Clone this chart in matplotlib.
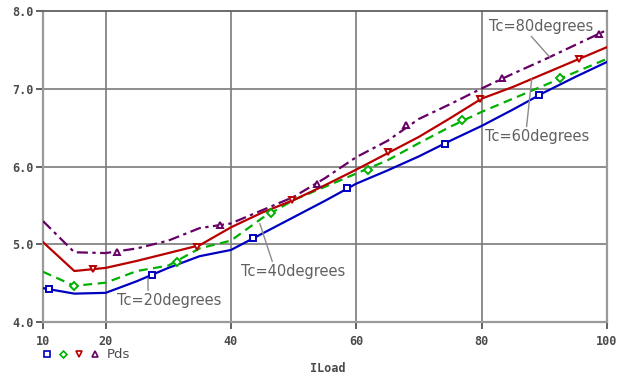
import matplotlib
matplotlib.use("Agg")
import matplotlib.pyplot as plt
from matplotlib.lines import Line2D

# load current (x axis) sampled every 5
iload = [10, 15, 20, 25, 30, 35, 40, 45, 50, 55, 60, 65, 70, 75, 80, 85, 90, 95, 100]

pds_20 = [4.44, 4.37, 4.38, 4.53, 4.70, 4.85, 4.93, 5.14, 5.35, 5.56, 5.78, 5.95,
          6.13, 6.33, 6.52, 6.73, 6.95, 7.15, 7.34]
pds_40 = [4.65, 4.47, 4.51, 4.66, 4.73, 4.95, 5.05, 5.34, 5.57, 5.74, 5.91, 6.08,
          6.30, 6.51, 6.70, 6.87, 7.04, 7.21, 7.38]
pds_60 = [5.03, 4.66, 4.70, 4.79, 4.89, 4.99, 5.22, 5.41, 5.57, 5.76, 5.96, 6.17,
          6.38, 6.62, 6.87, 7.02, 7.19, 7.36, 7.53]
pds_80 = [5.30, 4.90, 4.89, 4.95, 5.05, 5.21, 5.27, 5.44, 5.61, 5.85, 6.12, 6.33,
          6.61, 6.80, 7.00, 7.19, 7.37, 7.56, 7.75]

# symbol positions as they appear on each trace
mk20_x = [11.0, 27.4, 43.5, 58.6, 74.1, 89.1]
mk20_y = [4.43, 4.61, 5.08, 5.72, 6.29, 6.92]
mk40_x = [15.0, 31.4, 46.4, 61.9, 76.9, 92.5]
mk40_y = [4.47, 4.77, 5.40, 5.95, 6.59, 7.13]
mk60_x = [17.9, 34.5, 49.8, 65.0, 79.7, 95.5]
mk60_y = [4.68, 4.97, 5.57, 6.18, 6.87, 7.38]
mk80_x = [21.8, 38.2, 53.7, 68.0, 83.2, 98.7]
mk80_y = [4.90, 5.25, 5.77, 6.53, 7.13, 7.70]

x_ticks = [10, 20, 40, 60, 80, 100]
y_ticks = [4.0, 5.0, 6.0, 7.0, 8.0]

blue = "#0000c0"
green = "#00b000"
red = "#b80000"
purple = "#660066"
txt_gray = "#555555"

fig = plt.figure(figsize=(6.18, 3.77), dpi=100)
ax = fig.add_axes([0.0696, 0.1446, 0.9124, 0.8275])

# grid
for gx in [20, 40, 60, 80]:
    ax.axvline(gx, color="#7a7a7a", lw=1.2, zorder=1)
for gy in [5.0, 6.0, 7.0]:
    ax.axhline(gy, color="#7a7a7a", lw=1.2, zorder=1)

ax.plot(iload, pds_20, color=blue, lw=1.6, zorder=3)
ax.plot(iload, pds_40, color=green, lw=1.6, ls=(0, (4, 2.5)), zorder=3)
ax.plot(iload, pds_60, color=red, lw=1.6, zorder=3)
ax.plot(iload, pds_80, color=purple, lw=1.6, ls=(0, (5, 2, 1.5, 2)), zorder=3)

mkw = dict(ls="none", mfc="white", mew=1.4, ms=5, zorder=4)
ax.plot(mk20_x, mk20_y, marker="s", mec=blue, **mkw)
ax.plot(mk40_x, mk40_y, marker="D", mec=green, **dict(mkw, ms=4))
ax.plot(mk60_x, mk60_y, marker="v", mec=red, **mkw)
ax.plot(mk80_x, mk80_y, marker="^", mec=purple, **mkw)

ax.set_xlim(10, 100)
ax.set_ylim(4.0, 8.0)
ax.set_xticks(x_ticks)
ax.set_yticks(y_ticks)
ax.set_xticklabels([str(v) for v in x_ticks])
ax.set_yticklabels(["%.1f" % v for v in y_ticks])
ax.tick_params(axis="both", colors=txt_gray, labelsize=8.5, length=5, width=1.3,
               labelcolor="#4a4a4a")
ax.tick_params(axis="x", pad=4)
ax.tick_params(axis="y", pad=2)
for lab in ax.get_xticklabels() + ax.get_yticklabels():
    lab.set_family("DejaVu Sans Mono")
    lab.set_weight("bold")

for side in ["left", "bottom", "right"]:
    ax.spines[side].set_color("#9a9a9a")
    ax.spines[side].set_linewidth(1.6)
ax.spines["top"].set_color("#606060")
ax.spines["top"].set_linewidth(1.3)

# trace labels with leader lines
ann = dict(color="#606060", fontsize=10.5, family="DejaVu Sans", zorder=5,
           ha="center", va="center")


def leader(rx, ry):
    return dict(arrowstyle="-", color="#8a8a8a", lw=1, relpos=(rx, ry),
                shrinkA=0, shrinkB=0)


ax.annotate("Tc=20degrees", xy=(26.75, 4.57), xytext=(30.1, 4.28),
            arrowprops=leader(0.3, 1.0), **ann)
ax.annotate("Tc=40degrees", xy=(44.6, 5.27), xytext=(49.9, 4.65),
            arrowprops=leader(0.31, 1.0), **ann)
ax.annotate("Tc=60degrees", xy=(88.0, 7.12), xytext=(88.8, 6.38),
            arrowprops=leader(0.4, 1.0), **ann)
ax.annotate("Tc=80degrees", xy=(90.9, 7.40), xytext=(89.5, 7.80),
            arrowprops=leader(0.37, 0.1), **ann)

# legend row under the plot
legend_marks = [("s", blue, 4), ("D", green, 3.5), ("v", red, 4), ("^", purple, 4)]
for i, (m, c, s) in enumerate(legend_marks):
    fig.add_artist(Line2D([(47 + 16 * i) / 618], [1 - 354 / 377], transform=fig.transFigure,
                          ls="none", marker=m, mec=c, mfc="white", mew=1.2, ms=s))
fig.text(107 / 618, 1 - 354 / 377, "Pds", ha="left", va="center", fontsize=9.5,
         color="#4a4a4a", family="DejaVu Sans")

fig.text(328 / 618, 1 - 369 / 377, "ILoad", ha="center", va="center", fontsize=8.5,
         color="#4a4a4a", family="DejaVu Sans Mono", weight="bold")

fig.savefig("out.png", dpi=100)
